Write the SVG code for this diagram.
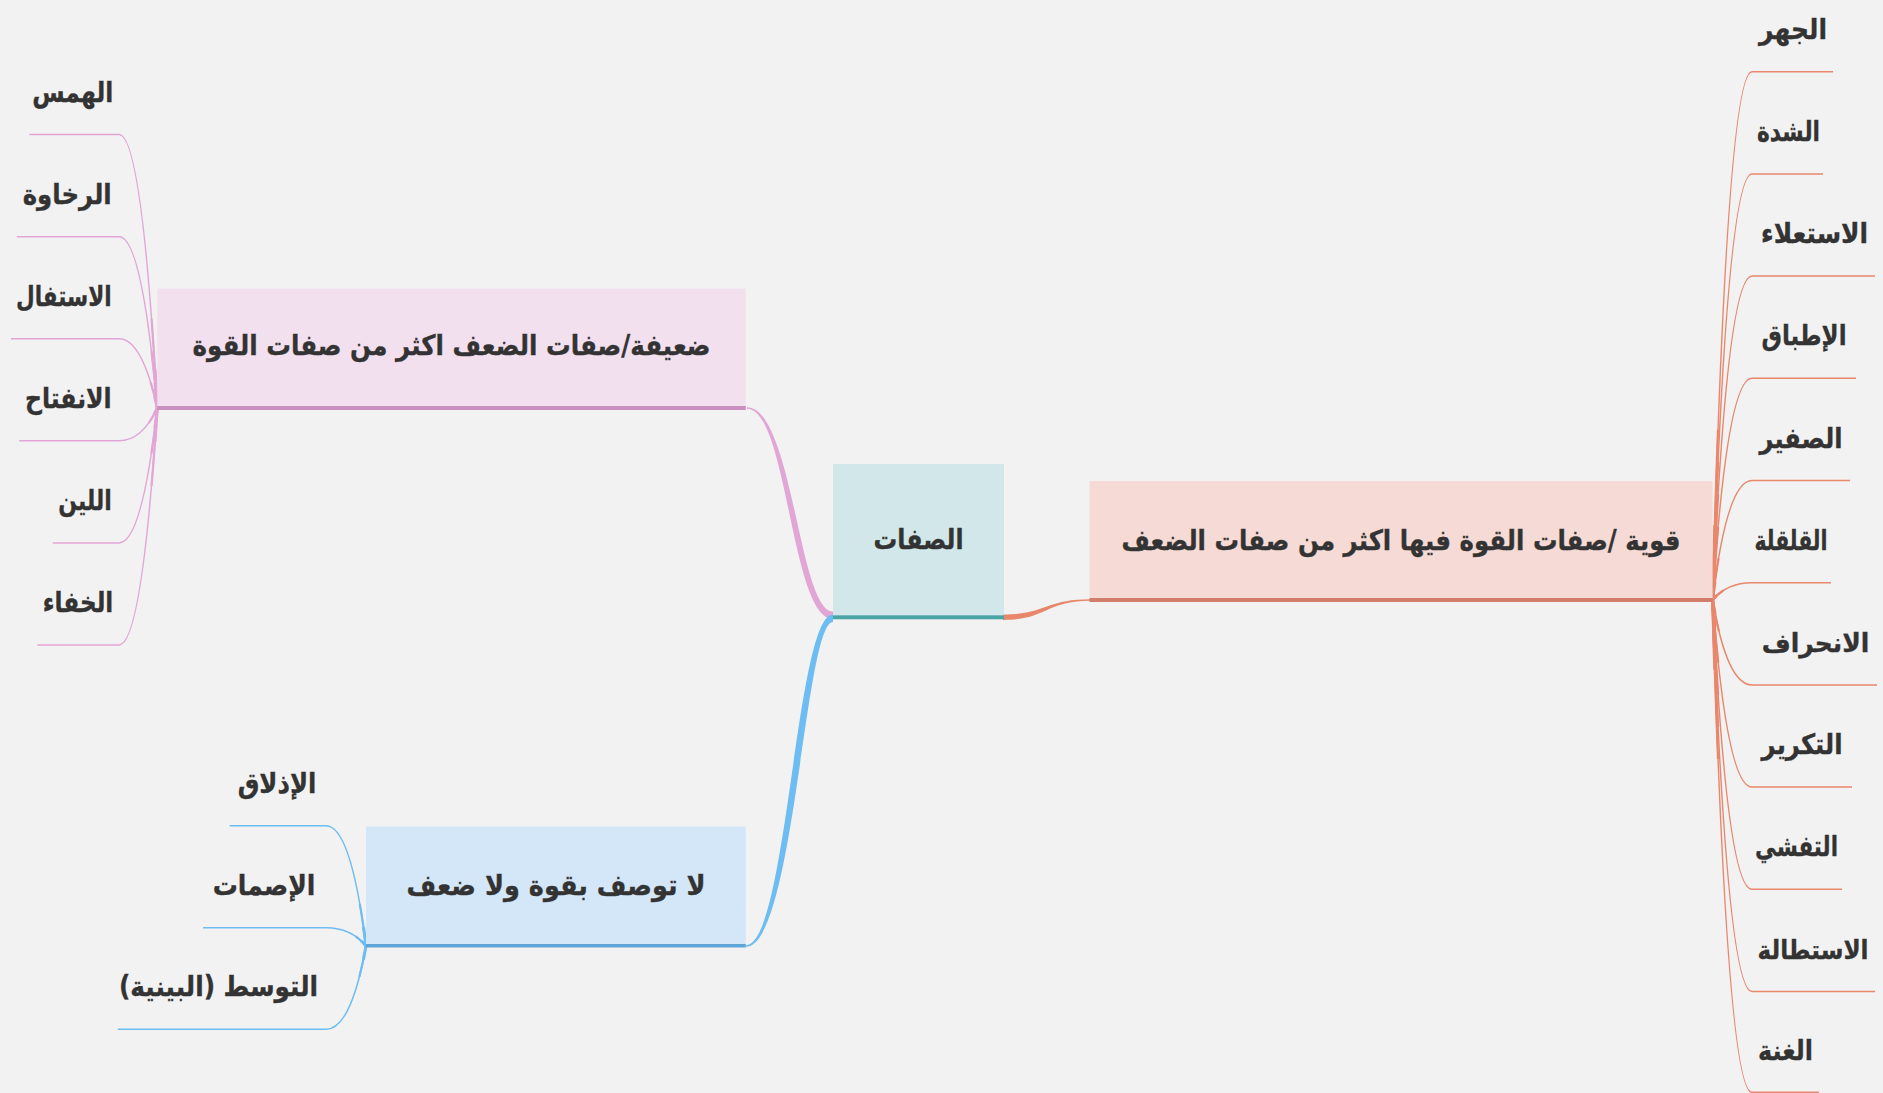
<svg xmlns="http://www.w3.org/2000/svg" width="1883" height="1093" viewBox="0 0 1883 1093">
<style>
text{font-family:"DejaVu Sans","Noto Sans",sans-serif;font-weight:bold;font-size:28px;fill:#333333;stroke:#333333;stroke-width:0.35px;text-anchor:middle;direction:rtl;unicode-bidi:embed}
.sm{font-size:26px}
.co{fill:none;stroke:#E8876C;stroke-width:1.5}
.cp{fill:none;stroke:#E2A6D6;stroke-width:1.5}
.cb{fill:none;stroke:#6DBDF2;stroke-width:1.5}
.t1{stroke-width:3;stroke-dasharray:14 200}
.t2{stroke-width:2.2;stroke-dasharray:32 200}
</style>
<rect x="0" y="0" width="1883" height="1093" fill="#F2F2F2"/>
<g id="connectors">
<path d="M1003,614.5 C1046,614.5 1046,599.3 1090,599.3 L1090,600.7 C1046,600.7 1046,620 1003,620 Z" fill="#E8876C"/>
<path d="M833,611.5 C799,611.5 792.5,407.3 747,407.3 L747,408.7 C787.5,408.7 791,619 833,619 Z" fill="#E2A6D6"/>
<path d="M833,614.5 C796,614.5 787,945.3 746,945.3 L746,946.7 C794,946.7 805,622 833,622 Z" fill="#6DBDF2"/>
<path class="co" d="M1712.6,600 Q1727,71.7 1752,71.7 H1833"/>
<path class="co" d="M1712.6,600 Q1727,173.9 1752,173.9 H1823"/>
<path class="co" d="M1712.6,600 Q1727,276.1 1752,276.1 H1875"/>
<path class="co" d="M1712.6,600 Q1727,378.3 1752,378.3 H1856"/>
<path class="co" d="M1712.6,600 Q1727,480.5 1752,480.5 H1850"/>
<path class="co" d="M1712.6,600 Q1727,582.7 1752,582.7 H1831"/>
<path class="co" d="M1712.6,600 Q1727,684.9 1752,684.9 H1877"/>
<path class="co" d="M1712.6,600 Q1727,787.1 1752,787.1 H1852"/>
<path class="co" d="M1712.6,600 Q1727,889.3 1752,889.3 H1842"/>
<path class="co" d="M1712.6,600 Q1727,991.5 1752,991.5 H1875"/>
<path class="co" d="M1712.6,600 Q1727,1092.3 1752,1092.3 H1819"/>
<g class="co">
<path class="t1" pathLength="100" d="M1712.6,600 Q1727,71.7 1752,71.7"/>
<path class="t1" pathLength="100" d="M1712.6,600 Q1727,173.9 1752,173.9"/>
<path class="t1" pathLength="100" d="M1712.6,600 Q1727,276.1 1752,276.1"/>
<path class="t1" pathLength="100" d="M1712.6,600 Q1727,378.3 1752,378.3"/>
<path class="t1" pathLength="100" d="M1712.6,600 Q1727,480.5 1752,480.5"/>
<path class="t1" pathLength="100" d="M1712.6,600 Q1727,582.7 1752,582.7"/>
<path class="t1" pathLength="100" d="M1712.6,600 Q1727,684.9 1752,684.9"/>
<path class="t1" pathLength="100" d="M1712.6,600 Q1727,787.1 1752,787.1"/>
<path class="t1" pathLength="100" d="M1712.6,600 Q1727,889.3 1752,889.3"/>
<path class="t1" pathLength="100" d="M1712.6,600 Q1727,991.5 1752,991.5"/>
<path class="t1" pathLength="100" d="M1712.6,600 Q1727,1092.3 1752,1092.3"/>
<path class="t2" pathLength="100" d="M1712.6,600 Q1727,71.7 1752,71.7"/>
<path class="t2" pathLength="100" d="M1712.6,600 Q1727,173.9 1752,173.9"/>
<path class="t2" pathLength="100" d="M1712.6,600 Q1727,276.1 1752,276.1"/>
<path class="t2" pathLength="100" d="M1712.6,600 Q1727,378.3 1752,378.3"/>
<path class="t2" pathLength="100" d="M1712.6,600 Q1727,480.5 1752,480.5"/>
<path class="t2" pathLength="100" d="M1712.6,600 Q1727,582.7 1752,582.7"/>
<path class="t2" pathLength="100" d="M1712.6,600 Q1727,684.9 1752,684.9"/>
<path class="t2" pathLength="100" d="M1712.6,600 Q1727,787.1 1752,787.1"/>
<path class="t2" pathLength="100" d="M1712.6,600 Q1727,889.3 1752,889.3"/>
<path class="t2" pathLength="100" d="M1712.6,600 Q1727,991.5 1752,991.5"/>
<path class="t2" pathLength="100" d="M1712.6,600 Q1727,1092.3 1752,1092.3"/>
</g>
<path class="cp" d="M157.3,408 Q142,134.6 119,134.6 H29.3"/>
<path class="cp" d="M157.3,408 Q142,236.7 119,236.7 H16.7"/>
<path class="cp" d="M157.3,408 Q142,338.8 119,338.8 H11"/>
<path class="cp" d="M157.3,408 Q142,440.8 119,440.8 H19.3"/>
<path class="cp" d="M157.3,408 Q142,542.9 119,542.9 H52.7"/>
<path class="cp" d="M157.3,408 Q142,644.9 119,644.9 H37.3"/>
<g class="cp">
<path class="t1" pathLength="100" d="M157.3,408 Q142,134.6 119,134.6"/>
<path class="t1" pathLength="100" d="M157.3,408 Q142,236.7 119,236.7"/>
<path class="t1" pathLength="100" d="M157.3,408 Q142,338.8 119,338.8"/>
<path class="t1" pathLength="100" d="M157.3,408 Q142,440.8 119,440.8"/>
<path class="t1" pathLength="100" d="M157.3,408 Q142,542.9 119,542.9"/>
<path class="t1" pathLength="100" d="M157.3,408 Q142,644.9 119,644.9"/>
<path class="t2" pathLength="100" d="M157.3,408 Q142,134.6 119,134.6"/>
<path class="t2" pathLength="100" d="M157.3,408 Q142,236.7 119,236.7"/>
<path class="t2" pathLength="100" d="M157.3,408 Q142,338.8 119,338.8"/>
<path class="t2" pathLength="100" d="M157.3,408 Q142,440.8 119,440.8"/>
<path class="t2" pathLength="100" d="M157.3,408 Q142,542.9 119,542.9"/>
<path class="t2" pathLength="100" d="M157.3,408 Q142,644.9 119,644.9"/>
</g>
<path class="cb" d="M366,946 Q351,825.7 326,825.7 H229.6"/>
<path class="cb" d="M366,946 Q351,927.7 326,927.7 H203"/>
<path class="cb" d="M366,946 Q351,1029.3 326,1029.3 H117.7"/>
<g class="cb">
<path class="t1" pathLength="100" d="M366,946 Q351,825.7 326,825.7"/>
<path class="t1" pathLength="100" d="M366,946 Q351,927.7 326,927.7"/>
<path class="t1" pathLength="100" d="M366,946 Q351,1029.3 326,1029.3"/>
<path class="t2" pathLength="100" d="M366,946 Q351,825.7 326,825.7"/>
<path class="t2" pathLength="100" d="M366,946 Q351,927.7 326,927.7"/>
<path class="t2" pathLength="100" d="M366,946 Q351,1029.3 326,1029.3"/>
</g>
</g>
<g id="node-center">
<rect x="833" y="464" width="171" height="151.3" fill="#D1E7EA"/>
<rect x="833" y="615.3" width="171" height="4" fill="#4BA5A5"/>
<text x="918.5" y="549" textLength="90" lengthAdjust="spacingAndGlyphs">الصفات</text>
</g>
<g id="node-strong">
<rect x="1089.5" y="481" width="623.1" height="117" fill="#F5DAD5"/>
<rect x="1089.5" y="598" width="623.1" height="4" fill="#D27D6A"/>
<text x="1401" y="550" textLength="559" lengthAdjust="spacingAndGlyphs">قوية /صفات القوة فيها اكثر من صفات الضعف</text>
</g>
<g id="node-weak">
<rect x="157.3" y="288.5" width="588.5" height="117.5" fill="#F3E0EF"/>
<rect x="157.3" y="406" width="588.5" height="4" fill="#C98FBE"/>
<text x="451.5" y="355" textLength="518" lengthAdjust="spacingAndGlyphs">ضعيفة/صفات الضعف اكثر من صفات القوة</text>
</g>
<g id="node-neutral">
<rect x="366" y="826.5" width="379.8" height="117.5" fill="#D4E7F8"/>
<rect x="366" y="944" width="379.8" height="3.5" fill="#5EA5DA"/>
<text x="556" y="895" textLength="299" lengthAdjust="spacingAndGlyphs">لا توصف بقوة ولا ضعف</text>
</g>
<g id="s-jahr"><text x="1793" y="38.7" textLength="68" lengthAdjust="spacingAndGlyphs">الجهر</text></g>
<g id="s-shidda"><text x="1788.5" y="140.9" textLength="63" lengthAdjust="spacingAndGlyphs">الشدة</text></g>
<g id="s-istila"><text x="1814.5" y="243" textLength="107" lengthAdjust="spacingAndGlyphs">الاستعلاء</text></g>
<g id="s-itbaq"><text x="1804" y="345.3" textLength="85" lengthAdjust="spacingAndGlyphs">الإطباق</text></g>
<g id="s-safir"><text x="1801" y="447.5" textLength="83" lengthAdjust="spacingAndGlyphs">الصفير</text></g>
<g id="s-qalqala"><text x="1791" y="549.7" textLength="73" lengthAdjust="spacingAndGlyphs">القلقلة</text></g>
<g id="s-inhiraf"><text class="sm" x="1815.5" y="651.9" textLength="107.6" lengthAdjust="spacingAndGlyphs">الانحراف</text></g>
<g id="s-takrir"><text x="1802" y="754" textLength="81" lengthAdjust="spacingAndGlyphs">التكرير</text></g>
<g id="s-tafashshi"><text x="1796.5" y="856.3" textLength="83" lengthAdjust="spacingAndGlyphs">التفشي</text></g>
<g id="s-istitala"><text class="sm" x="1813" y="958.5" textLength="111" lengthAdjust="spacingAndGlyphs">الاستطالة</text></g>
<g id="s-ghunna"><text x="1785.5" y="1059.5" textLength="55" lengthAdjust="spacingAndGlyphs">الغنة</text></g>
<g id="w-hams"><text x="72.8" y="101.6" textLength="81" lengthAdjust="spacingAndGlyphs">الهمس</text></g>
<g id="w-rakhawa"><text x="67.2" y="203.7" textLength="89" lengthAdjust="spacingAndGlyphs">الرخاوة</text></g>
<g id="w-istifal"><text x="63.8" y="305.8" textLength="95.7" lengthAdjust="spacingAndGlyphs">الاستفال</text></g>
<g id="w-infitah"><text x="68.3" y="407.8" textLength="86.7" lengthAdjust="spacingAndGlyphs">الانفتاح</text></g>
<g id="w-lin"><text x="85" y="509.9" textLength="53.4" lengthAdjust="spacingAndGlyphs">اللين</text></g>
<g id="w-khafa"><text x="78" y="611.9" textLength="70.6" lengthAdjust="spacingAndGlyphs">الخفاء</text></g>
<g id="n-idhlaq"><text x="277" y="792.7" textLength="78.7" lengthAdjust="spacingAndGlyphs">الإذلاق</text></g>
<g id="n-ismat"><text x="264" y="894.7" textLength="102.7" lengthAdjust="spacingAndGlyphs">الإصمات</text></g>
<g id="n-tawassut"><text x="218.5" y="996.3" textLength="199" lengthAdjust="spacingAndGlyphs">التوسط (البينية)</text></g>
</svg>
